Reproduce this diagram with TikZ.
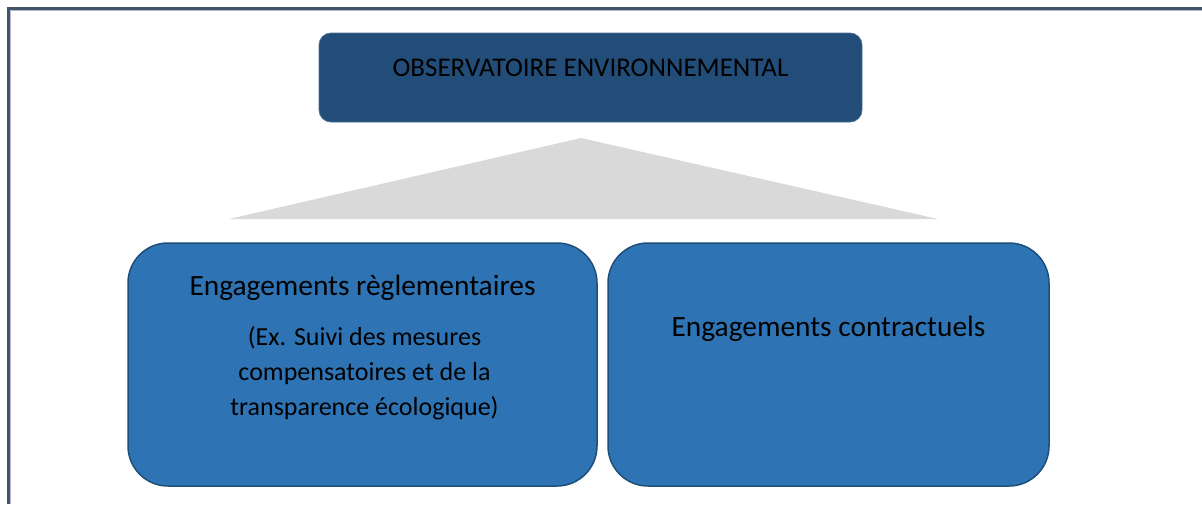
\documentclass[tikz,border=0pt]{standalone}
\usepackage{fontspec}
\setmainfont{Carlito}
\usetikzlibrary{positioning,calc}
\definecolor{framecol}{RGB}{68,84,106}
\definecolor{framelight}{RGB}{180,188,202}
\definecolor{topblue}{RGB}{33,77,120}
\definecolor{boxblue}{RGB}{46,116,181}
\definecolor{boxedge}{RGB}{31,78,121}
\definecolor{wedgegray}{RGB}{217,217,217}

\begin{document}
\begin{tikzpicture}[
            x=1pt, y=-1pt,
            topbox/.style={fill=topblue, draw=topblue!80!white, line width=0.8pt, rounded corners=12pt, minimum width=543pt, minimum height=89pt},
            engbox/.style={fill=boxblue, draw=boxedge, line width=1.5pt, rounded corners=40pt, minimum height=243pt},
            bigtext/.style={font=\fontsize{29.4}{34}\selectfont},
            smalltext/.style={font=\fontsize{26}{35}\selectfont, align=center}
        ]
        \useasboundingbox (0,0) rectangle (1202,504);

        % Outer frame (only left and top edges are visible)
        \draw[framelight, line width=1pt] (10.5,504) -- (10.5,10.5) -- (1202,10.5);
        \draw[framecol, line width=3pt] (8,504) -- (8,8) -- (1202,8);

        % Observatoire
        \node[topbox] (obs) at (590.5,77.5) {};
        \node[font=\fontsize{27}{32}\selectfont] (obstext) at ($(obs.north) + (0,35)$) {OBSERVATOIRE ENVIRONNEMENTAL};

        % Grey wedge under the title box
        \coordinate (apex) at (581,138);
        \coordinate (baseL) at (229,219);
        \coordinate (baseR) at (938,219);
        \fill[wedgegray] (apex) -- (baseR) -- (baseL) -- cycle;

        % Engagements reglementaires
        \node[engbox, minimum width=469pt] (regl) at (362.5,364.5) {};
        \node[bigtext] (regltitle) at ($(regl.north) + (0,46)$) {Engagements règlementaires};
        \node[smalltext] (reglex) at ($(regl.north) + (2,131)$) {(Ex. Suivi des mesures\\
            compensatoires et de la\\
            transparence écologique)};

        % Engagements contractuels
        \node[engbox, minimum width=441pt] (contr) at (828.5,364.5) {};
        \node[bigtext] (contrtitle) at ($(contr.north) + (0,87)$) {Engagements contractuels};

        \end{tikzpicture}
\end{document}
